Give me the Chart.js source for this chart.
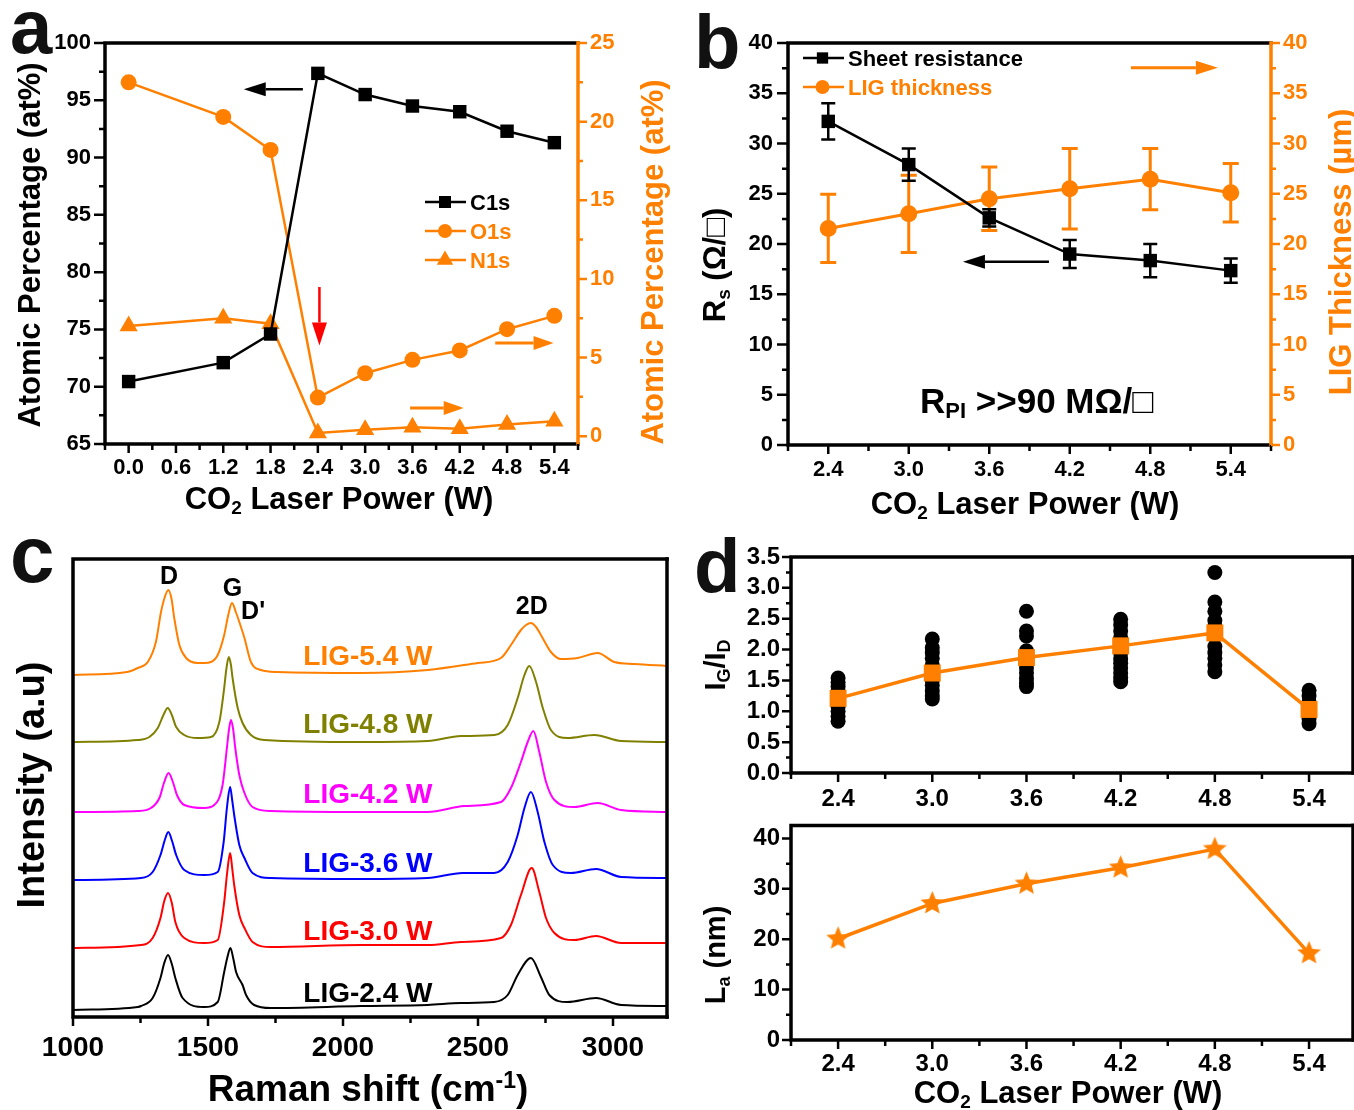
<!DOCTYPE html>
<html>
<head>
<meta charset="utf-8">
<title>LIG characterisation</title>
<script src="https://cdn.jsdelivr.net/npm/chart.js@4.4.1/dist/chart.umd.min.js"></script>
<style>
  html, body { margin: 0; padding: 0; background: #fff; }
  #fig { position: relative; width: 1354px; height: 1110px; overflow: hidden; background: #fff; }
  #fig canvas { position: absolute; }
</style>
</head>
<body>
<div id="fig">
  <canvas id="chartA" width="680" height="520" style="left:0;top:0;width:680px;height:520px"></canvas>
  <canvas id="chartB" width="674" height="520" style="left:680px;top:0;width:674px;height:520px"></canvas>
  <canvas id="chartC" width="680" height="580" style="left:0;top:530px;width:680px;height:580px"></canvas>
  <canvas id="chartD1" width="690" height="290" style="left:680px;top:530px;width:690px;height:290px"></canvas>
  <canvas id="chartD2" width="690" height="310" style="left:680px;top:800px;width:690px;height:310px"></canvas>
</div>
<script>
// ---- panel a : XPS atomic percentages
const powerA = [0.0, 1.2, 1.8, 2.4, 3.0, 3.6, 4.2, 4.8, 5.4];
const c1s = [70.45, 72.1, 74.6, 97.35, 95.5, 94.5, 94.0, 92.3, 91.3];
const o1s = [22.5, 20.3, 18.2, 2.45, 4.0, 4.85, 5.45, 6.8, 7.65];
const n1s = [7.0, 7.5, 7.15, 0.2, 0.4, 0.57, 0.47, 0.74, 0.95];
const aXTicks = [0.0, 0.6, 1.2, 1.8, 2.4, 3.0, 3.6, 4.2, 4.8, 5.4];
const aXMinor = [-0.3, 0.3, 0.9, 1.5, 2.1, 2.7, 3.3, 3.9, 4.5, 5.1, 5.7];
const aLeftTicks = [65, 70, 75, 80, 85, 90, 95, 100];
const aLeftMinor = [67.5, 72.5, 77.5, 82.5, 87.5, 92.5, 97.5];
const aRightTicks = [0, 5, 10, 15, 20, 25];
const aRightMinor = [2.5, 7.5, 12.5, 17.5, 22.5];

// ---- panel b : sheet resistance and thickness
const powerB = [2.4, 3.0, 3.6, 4.2, 4.8, 5.4];
const sheetRes = [32.2, 27.9, 22.6, 19.0, 18.35, 17.35];
const sheetResErr = [1.8, 1.6, 0.85, 1.4, 1.65, 1.2];
const thickness = [21.55, 23.0, 24.5, 25.5, 26.45, 25.1];
const thicknessErr = [3.4, 3.85, 3.15, 4.0, 3.05, 2.9];
const powerTicks = [2.4, 3.0, 3.6, 4.2, 4.8, 5.4];
const powerMinor = [2.1, 2.7, 3.3, 3.9, 4.5, 5.1, 5.7];
const bTicks = [0, 5, 10, 15, 20, 25, 30, 35, 40];
const bMinor = [2.5, 7.5, 12.5, 17.5, 22.5, 27.5, 32.5, 37.5];

// ---- panel c : Raman spectra (offset traces, a.u.)
const ramanX54 = [1000, 1200, 1240, 1277, 1307, 1326, 1340, 1353, 1365, 1375, 1394, 1419, 1462, 1486, 1511, 1536, 1560, 1575, 1589, 1603, 1616, 1635, 1659, 1696, 1758, 2067, 2314, 2499, 2585, 2622, 2659, 2678, 2696, 2715, 2733, 2770, 2807, 2869, 2943, 3005, 3079, 3200];
const ramanY54 = [342, 345, 349, 355, 375, 405, 420, 427, 418, 399, 372, 359, 354, 354, 355, 362, 382, 402, 414, 405, 395, 379, 355, 347, 345, 344, 347, 354, 359, 372, 387, 392, 394, 390, 382, 365, 358, 359, 364, 355, 353, 351];
const ramanX48 = [1000, 1240, 1283, 1314, 1335, 1351, 1366, 1382, 1412, 1462, 1511, 1542, 1560, 1568, 1577, 1585, 1591, 1610, 1628, 1659, 1709, 2067, 2314, 2437, 2561, 2610, 2647, 2672, 2690, 2715, 2740, 2770, 2832, 2931, 3030, 3200];
const ramanY48 = [275, 277, 280, 289, 302, 309, 302, 290, 282, 279, 280, 295, 329, 348, 360, 352, 339, 309, 294, 282, 277, 275, 276, 281, 282, 292, 319, 342, 351, 335, 309, 287, 279, 282, 276, 275];
const ramanX42 = [1000, 1240, 1289, 1320, 1338, 1354, 1370, 1385, 1412, 1486, 1523, 1554, 1570, 1578, 1585, 1593, 1601, 1616, 1635, 1665, 1733, 2067, 2314, 2449, 2585, 2622, 2659, 2684, 2705, 2727, 2752, 2783, 2857, 2943, 3030, 3200];
const ramanY42 = [205, 206, 209, 219, 235, 244, 235, 222, 212, 209, 212, 232, 269, 288, 297, 288, 269, 242, 224, 210, 206, 205, 205, 211, 215, 229, 255, 275, 286, 265, 235, 217, 210, 214, 207, 205];
const ramanX36 = [1000, 1252, 1295, 1324, 1340, 1353, 1367, 1382, 1412, 1486, 1536, 1558, 1570, 1582, 1590, 1597, 1616, 1635, 1665, 1733, 2067, 2314, 2443, 2560, 2610, 2647, 2672, 2696, 2721, 2746, 2777, 2844, 2937, 3030, 3200];
const ramanY36 = [137, 139, 145, 162, 177, 185, 176, 162, 147, 142, 145, 175, 209, 230, 216, 202, 172, 159, 144, 139, 138, 139, 144, 144, 155, 182, 209, 225, 205, 175, 152, 144, 148, 140, 139];
const ramanX30 = [1000, 1252, 1295, 1324, 1338, 1352, 1366, 1379, 1412, 1486, 1536, 1560, 1570, 1582, 1590, 1597, 1616, 1635, 1665, 1733, 2067, 2314, 2437, 2585, 2622, 2659, 2699, 2727, 2752, 2783, 2857, 2937, 3030, 3200];
const ramanY30 = [69, 72, 79, 99, 116, 124, 114, 95, 79, 74, 77, 115, 142, 164, 148, 132, 102, 89, 75, 70, 72, 72, 75, 79, 92, 122, 149, 125, 99, 84, 77, 81, 74, 74];
const ramanX24 = [1000, 1240, 1252, 1295, 1324, 1338, 1352, 1366, 1379, 1406, 1486, 1536, 1560, 1572, 1583, 1594, 1604, 1628, 1641, 1671, 1733, 2067, 2314, 2437, 2560, 2610, 2647, 2696, 2733, 2764, 2832, 2937, 3030, 3200];
const ramanY24 = [7, 10, 11, 19, 39, 54, 62, 53, 39, 19, 10, 15, 45, 60, 69, 58, 45, 32, 22, 12, 9, 11, 12, 14, 15, 22, 42, 59, 40, 22, 15, 19, 12, 11];
const ramanLabels = ['LIG-5.4 W', 'LIG-4.8 W', 'LIG-4.2 W', 'LIG-3.6 W', 'LIG-3.0 W', 'LIG-2.4 W'];
const cTicks = [1000, 1500, 2000, 2500, 3000];
const cMinor = [1250, 1750, 2250, 2750];

// ---- panel d : IG/ID ratio and crystallite size
const igidMean = [1.21, 1.62, 1.87, 2.06, 2.27, 1.03];
const igid24 = [1.54, 1.47, 1.40, 1.32, 1.25, 1.15, 1.07, 1.00, 0.92, 0.84];
const igid30 = [2.17, 2.03, 1.95, 1.86, 1.75, 1.62, 1.50, 1.42, 1.33, 1.25, 1.20];
const igid36 = [2.62, 2.30, 2.22, 1.98, 1.88, 1.78, 1.70, 1.62, 1.53, 1.46, 1.40];
const igid42 = [2.49, 2.40, 2.30, 2.20, 2.10, 1.95, 1.85, 1.78, 1.70, 1.62, 1.55, 1.48];
const igid48 = [3.25, 2.77, 2.62, 2.47, 2.38, 2.05, 1.95, 1.86, 1.75, 1.64];
const igid54 = [1.34, 1.25, 1.15, 1.05, 0.95, 0.88, 0.80];
const crystalSize = [20.1, 27.1, 31.0, 34.2, 37.9, 17.2];
const dTopTicks = [0.0, 0.5, 1.0, 1.5, 2.0, 2.5, 3.0, 3.5];
const dTopMinor = [0.25, 0.75, 1.25, 1.75, 2.25, 2.75, 3.25];
const dBotTicks = [0, 10, 20, 30, 40];
const dBotMinor = [5, 15, 25, 35];

const ORANGE = '#FF8000';
const BLACK = '#000000';
const FAMILY = '"Liberation Sans", Arial, Helvetica, sans-serif';
function font(size) { return 'bold ' + size + 'px ' + FAMILY; }
function pts(xs, ys) { return xs.map((x, i) => ({ x: x, y: ys[i] })); }

// axis with fixed ticks and a fixed thickness so the plot boxes line up
function linAxis(o) {
  return {
    type: 'linear', position: o.position, min: o.min, max: o.max,
    afterBuildTicks: ax => { ax.ticks = o.ticks.map(v => ({ value: v })); },
    afterFit: s => {
      if (o.width != null) s.width = o.width;
      if (o.height != null) s.height = o.height;
    },
    grid: { display: false, drawTicks: false },
    border: { display: false },
    ticks: {
      display: o.show !== false, autoSkip: false, maxRotation: 0, padding: o.pad || 0,
      color: o.color || BLACK, font: { family: FAMILY, size: o.size || 22, weight: 'bold' },
      callback: v => o.fmt ? o.fmt(v) : String(v)
    }
  };
}

function baseOptions(padding, scales) {
  return {
    responsive: false, animation: false, events: [],
    layout: { padding: padding, autoPadding: false },
    plugins: { legend: { display: false }, tooltip: { enabled: false } },
    scales: scales
  };
}

// ---- drawing helpers
function drawFrame(chart, rightColor) {
  const ctx = chart.ctx, ca = chart.chartArea;
  ctx.save();
  ctx.lineWidth = 3.5; ctx.lineCap = 'square'; ctx.strokeStyle = BLACK;
  ctx.beginPath();
  ctx.moveTo(ca.right, ca.top); ctx.lineTo(ca.left, ca.top);
  ctx.lineTo(ca.left, ca.bottom); ctx.lineTo(ca.right, ca.bottom);
  ctx.stroke();
  ctx.strokeStyle = rightColor || BLACK;
  ctx.beginPath(); ctx.moveTo(ca.right, ca.top); ctx.lineTo(ca.right, ca.bottom); ctx.stroke();
  ctx.restore();
}

function drawTicks(chart, id, values, len, color) {
  const s = chart.scales[id], ca = chart.chartArea, ctx = chart.ctx;
  ctx.save(); ctx.strokeStyle = color; ctx.lineWidth = 2.5;
  ctx.beginPath();
  values.forEach(v => {
    const p = s.getPixelForValue(v);
    if (s.isHorizontal()) { ctx.moveTo(p, ca.bottom); ctx.lineTo(p, ca.bottom + len); }
    else if (s.position === 'right') { ctx.moveTo(ca.right, p); ctx.lineTo(ca.right + len, p); }
    else { ctx.moveTo(ca.left, p); ctx.lineTo(ca.left - len, p); }
  });
  ctx.stroke(); ctx.restore();
}

// text with sub/superscripts; (x, y) is the centre (or left end) at mid cap height
function rich(ctx, parts, x, y, size, color, opt) {
  opt = opt || {};
  ctx.save();
  ctx.translate(x, y);
  if (opt.rot) ctx.rotate(opt.rot);
  ctx.fillStyle = color; ctx.textAlign = 'left'; ctx.textBaseline = 'alphabetic';
  const segs = parts.map(p => {
    const s = p[1] ? Math.round(size * 0.62) : size;
    ctx.font = font(s);
    return { t: p[0], m: p[1], s: s, w: ctx.measureText(p[0]).width };
  });
  const total = segs.reduce((a, g) => a + g.w, 0);
  let cx = opt.align === 'left' ? 0 : -total / 2;
  const base = size * 0.36;
  segs.forEach(g => {
    ctx.font = font(g.s);
    const dy = g.m === 'sub' ? size * 0.14 : (g.m === 'sup' ? -size * 0.36 : 0);
    ctx.fillText(g.t, cx, base + dy);
    cx += g.w;
  });
  ctx.restore();
}

function arrow(ctx, x1, y1, x2, y2, color, lw, head, half) {
  const a = Math.atan2(y2 - y1, x2 - x1);
  const bx = x2 - Math.cos(a) * head, by = y2 - Math.sin(a) * head;
  ctx.save();
  ctx.strokeStyle = color; ctx.fillStyle = color; ctx.lineWidth = lw;
  ctx.beginPath(); ctx.moveTo(x1, y1); ctx.lineTo(bx, by); ctx.stroke();
  ctx.beginPath();
  ctx.moveTo(x2, y2);
  ctx.lineTo(bx + Math.sin(a) * half, by - Math.cos(a) * half);
  ctx.lineTo(bx - Math.sin(a) * half, by + Math.cos(a) * half);
  ctx.closePath(); ctx.fill();
  ctx.restore();
}

function marker(ctx, kind, x, y, r, color) {
  ctx.save(); ctx.fillStyle = color; ctx.beginPath();
  if (kind === 'rect') ctx.rect(x - r * 0.707, y - r * 0.707, r * 1.414, r * 1.414);
  else if (kind === 'circle') ctx.arc(x, y, r, 0, Math.PI * 2);
  else { ctx.moveTo(x, y - r); ctx.lineTo(x + r * 0.866, y + r * 0.5); ctx.lineTo(x - r * 0.866, y + r * 0.5); ctx.closePath(); }
  ctx.fill(); ctx.restore();
}

function legendRow(ctx, x1, x2, xm, y, kind, r, color, text, textColor) {
  ctx.save(); ctx.strokeStyle = color; ctx.lineWidth = 2.5;
  ctx.beginPath(); ctx.moveTo(x1, y); ctx.lineTo(x2, y); ctx.stroke(); ctx.restore();
  marker(ctx, kind, xm, y, r, color);
  rich(ctx, [[text, '']], x2 + 4, y, 22, textColor, { align: 'left' });
}

function letter(ctx, ch, x, y, size) {
  ctx.save(); ctx.font = font(size); ctx.fillStyle = '#111'; ctx.textBaseline = 'alphabetic';
  ctx.fillText(ch, x, y); ctx.restore();
}

function errorBars(chart, xs, ys, errs, yId, color, lw, cap) {
  const sx = chart.scales.x, sy = chart.scales[yId], ctx = chart.ctx;
  ctx.save(); ctx.strokeStyle = color; ctx.lineWidth = lw; ctx.beginPath();
  xs.forEach((x, i) => {
    const px = sx.getPixelForValue(x);
    const top = sy.getPixelForValue(ys[i] + errs[i]);
    const bot = sy.getPixelForValue(ys[i] - errs[i]);
    ctx.moveTo(px, top); ctx.lineTo(px, bot);
    ctx.moveTo(px - cap, top); ctx.lineTo(px + cap, top);
    ctx.moveTo(px - cap, bot); ctx.lineTo(px + cap, bot);
  });
  ctx.stroke(); ctx.restore();
}

function makeStar(r, color) {
  const c = document.createElement('canvas');
  const s = Math.ceil(r * 2 + 2);
  c.width = s; c.height = s;
  const g = c.getContext('2d');
  g.fillStyle = color; g.beginPath();
  for (let i = 0; i < 10; i++) {
    const rr = i % 2 ? r * 0.45 : r;
    const a = -Math.PI / 2 + i * Math.PI / 5;
    g.lineTo(s / 2 + rr * Math.cos(a), s / 2 + rr * Math.sin(a));
  }
  g.closePath(); g.fill();
  return c;
}

const fmt1 = v => v.toFixed(1);
const fmt0 = v => v.toFixed(0);
const co2Title = [['CO', ''], ['2', 'sub'], [' Laser Power (W)', '']];

// ================= panel a
const plugA = {
  id: 'panelA',
  afterDraw(chart) {
    const ctx = chart.ctx, sx = chart.scales.x, sy = chart.scales.y, sy2 = chart.scales.y2;
    drawFrame(chart, ORANGE);
    drawTicks(chart, 'x', aXTicks, 9, BLACK);
    drawTicks(chart, 'x', aXMinor, 6, BLACK);
    drawTicks(chart, 'y', aLeftTicks, 11, BLACK);
    drawTicks(chart, 'y', aLeftMinor, 6, BLACK);
    drawTicks(chart, 'y2', aRightTicks, 9, ORANGE);
    drawTicks(chart, 'y2', aRightMinor, 5, ORANGE);
    letter(ctx, 'a', 10, 53, 76);
    rich(ctx, [['Atomic Percentage (at%)', '']], 29, 245, 31, BLACK, { rot: -Math.PI / 2 });
    rich(ctx, [['Atomic Percentage (at%)', '']], 652, 262, 31, ORANGE, { rot: -Math.PI / 2 });
    rich(ctx, co2Title, 339, 498, 31, BLACK);
    legendRow(ctx, 425, 466, 445, 202, 'rect', 8.5, BLACK, 'C1s', BLACK);
    legendRow(ctx, 425, 466, 445, 231, 'circle', 7, ORANGE, 'O1s', ORANGE);
    legendRow(ctx, 425, 466, 445, 260, 'tri', 9.5, ORANGE, 'N1s', ORANGE);
    arrow(ctx, sx.getPixelForValue(2.21), sy.getPixelForValue(95.96), sx.getPixelForValue(1.46), sy.getPixelForValue(95.96), BLACK, 2.5, 22, 7);
    arrow(ctx, sx.getPixelForValue(2.42), sy.getPixelForValue(78.7), sx.getPixelForValue(2.42), sy.getPixelForValue(73.6), '#FF0000', 2.5, 23, 7.5);
    arrow(ctx, sx.getPixelForValue(4.65), sy2.getPixelForValue(5.92), sx.getPixelForValue(5.39), sy2.getPixelForValue(5.92), ORANGE, 3, 20, 7);
    arrow(ctx, sx.getPixelForValue(3.57), sy2.getPixelForValue(1.79), sx.getPixelForValue(4.25), sy2.getPixelForValue(1.79), ORANGE, 3, 20, 7);
  }
};

new Chart(document.getElementById('chartA'), {
  type: 'line',
  data: {
    datasets: [
      { label: 'C1s', data: pts(powerA, c1s), yAxisID: 'y', borderColor: BLACK, backgroundColor: BLACK,
        borderWidth: 2.5, pointStyle: 'rect', pointRadius: 9.5, pointBorderWidth: 0 },
      { label: 'O1s', data: pts(powerA, o1s), yAxisID: 'y2', borderColor: ORANGE, backgroundColor: ORANGE,
        borderWidth: 2.5, pointStyle: 'circle', pointRadius: 8, pointBorderWidth: 0 },
      { label: 'N1s', data: pts(powerA, n1s), yAxisID: 'y2', borderColor: ORANGE, backgroundColor: ORANGE,
        borderWidth: 2.5, pointStyle: 'triangle', pointRadius: 10.5, pointBorderWidth: 0 }
    ]
  },
  options: baseOptions({ top: 43, left: 0, right: 0, bottom: 0 }, {
    x: linAxis({ position: 'bottom', min: -0.3, max: 5.7, ticks: aXTicks, fmt: fmt1, height: 76, pad: 11, size: 22 }),
    y: linAxis({ position: 'left', min: 65, max: 100, ticks: aLeftTicks, fmt: fmt0, width: 105, pad: 14, size: 22 }),
    y2: linAxis({ position: 'right', min: -0.5, max: 25, ticks: aRightTicks, fmt: fmt0, width: 102, pad: 12, size: 22, color: ORANGE })
  }),
  plugins: [plugA]
});

// ================= panel b
const plugB = {
  id: 'panelB',
  beforeDatasetsDraw(chart) {
    errorBars(chart, powerB, thickness, thicknessErr, 'y2', ORANGE, 3, 8);
    errorBars(chart, powerB, sheetRes, sheetResErr, 'y', BLACK, 2.5, 7);
  },
  afterDraw(chart) {
    const ctx = chart.ctx, sx = chart.scales.x, sy = chart.scales.y;
    drawFrame(chart, ORANGE);
    drawTicks(chart, 'x', powerTicks, 9, BLACK);
    drawTicks(chart, 'x', powerMinor, 6, BLACK);
    drawTicks(chart, 'y', bTicks, 11, BLACK);
    drawTicks(chart, 'y', bMinor, 6, BLACK);
    drawTicks(chart, 'y2', bTicks, 9, ORANGE);
    drawTicks(chart, 'y2', bMinor, 5, ORANGE);
    letter(ctx, 'b', 14, 68, 76);
    rich(ctx, [['R', ''], ['s', 'sub'], [' (Ω/□)', '']], 34, 265, 31, BLACK, { rot: -Math.PI / 2 });
    rich(ctx, [['LIG Thickness (µm)', '']], 660, 252, 31, ORANGE, { rot: -Math.PI / 2 });
    rich(ctx, co2Title, 345, 503, 31, BLACK);
    legendRow(ctx, 123, 164, 142.5, 58, 'rect', 8, BLACK, 'Sheet resistance', BLACK);
    legendRow(ctx, 123, 164, 142.5, 87, 'circle', 7, ORANGE, 'LIG thickness', ORANGE);
    arrow(ctx, sx.getPixelForValue(4.656), sy.getPixelForValue(37.54), sx.getPixelForValue(5.304), sy.getPixelForValue(37.54), ORANGE, 3, 22, 7);
    arrow(ctx, sx.getPixelForValue(4.045), sy.getPixelForValue(18.24), sx.getPixelForValue(3.404), sy.getPixelForValue(18.24), BLACK, 2.5, 22, 7);
    rich(ctx, [['R', ''], ['PI', 'sub'], [' >>90 MΩ/□', '']], 240, 400, 35, BLACK, { align: 'left' });
  }
};

new Chart(document.getElementById('chartB'), {
  type: 'line',
  data: {
    datasets: [
      { label: 'Sheet resistance', data: pts(powerB, sheetRes), yAxisID: 'y', borderColor: BLACK, backgroundColor: BLACK,
        borderWidth: 2.5, pointStyle: 'rect', pointRadius: 9.5, pointBorderWidth: 0 },
      { label: 'LIG thickness', data: pts(powerB, thickness), yAxisID: 'y2', borderColor: ORANGE, backgroundColor: ORANGE,
        borderWidth: 3, pointStyle: 'circle', pointRadius: 8.5, pointBorderWidth: 0 }
    ]
  },
  options: baseOptions({ top: 43, left: 0, right: 0, bottom: 0 }, {
    x: linAxis({ position: 'bottom', min: 2.1, max: 5.7, ticks: powerTicks, fmt: fmt1, height: 75, pad: 12, size: 22 }),
    y: linAxis({ position: 'left', min: 0, max: 40, ticks: bTicks, fmt: fmt0, width: 108, pad: 15, size: 22 }),
    y2: linAxis({ position: 'right', min: 0, max: 40, ticks: bTicks, fmt: fmt0, width: 83, pad: 12, size: 22, color: ORANGE })
  }),
  plugins: [plugB]
});

// ================= panel c
const ramanColors = [ORANGE, '#808000', '#FF00FF', '#0000FF', '#FF0000', BLACK];
const ramanSets = [[ramanX54, ramanY54], [ramanX48, ramanY48], [ramanX42, ramanY42], [ramanX36, ramanY36], [ramanX30, ramanY30], [ramanX24, ramanY24]];
const ramanLabelY = [362, 294, 224, 155, 87, 25];

const plugC = {
  id: 'panelC',
  afterDraw(chart) {
    const ctx = chart.ctx, sx = chart.scales.x, sy = chart.scales.y;
    drawFrame(chart, BLACK);
    drawTicks(chart, 'x', cTicks, 9, BLACK);
    drawTicks(chart, 'x', cMinor, 6, BLACK);
    letter(ctx, 'c', 10, 52, 80);
    rich(ctx, [['Intensity (a.u)', '']], 30, 255, 38, BLACK, { rot: -Math.PI / 2 });
    rich(ctx, [['Raman shift (cm', ''], ['-1', 'sup'], [')', '']], 368, 558, 37, BLACK);
    rich(ctx, [['D', '']], sx.getPixelForValue(1356), sy.getPixelForValue(442), 25, BLACK);
    rich(ctx, [['G', '']], sx.getPixelForValue(1591), sy.getPixelForValue(430), 25, BLACK);
    rich(ctx, [["D'", '']], sx.getPixelForValue(1667), sy.getPixelForValue(407), 25, BLACK);
    rich(ctx, [['2D', '']], sx.getPixelForValue(2699), sy.getPixelForValue(412), 25, BLACK);
    ramanLabels.forEach((t, i) => {
      rich(ctx, [[t, '']], sx.getPixelForValue(1853), sy.getPixelForValue(ramanLabelY[i]), 28, ramanColors[i], { align: 'left' });
    });
  }
};

new Chart(document.getElementById('chartC'), {
  type: 'line',
  data: {
    datasets: ramanSets.map((s, i) => ({
      label: ramanLabels[i], data: pts(s[0], s[1]), borderColor: ramanColors[i], borderWidth: 2,
      pointRadius: 0, cubicInterpolationMode: 'monotone', tension: 0.4, fill: false
    }))
  },
  options: baseOptions({ top: 29, left: 0, right: 13, bottom: 0 }, {
    x: linAxis({ position: 'bottom', min: 1000, max: 3200, ticks: cTicks, fmt: fmt0, height: 93, pad: 14, size: 28 }),
    y: linAxis({ position: 'left', min: 0, max: 458, ticks: [], show: false, width: 73 })
  }),
  plugins: [plugC]
});

// ================= panel d (top): IG/ID
const igidCols = [igid24, igid30, igid36, igid42, igid48, igid54];
const igidDots = [];
igidCols.forEach((col, i) => col.forEach(v => igidDots.push({ x: powerB[i], y: v })));

const plugD1 = {
  id: 'panelD1',
  afterDraw(chart) {
    const ctx = chart.ctx;
    drawFrame(chart, BLACK);
    drawTicks(chart, 'x', powerTicks, 9, BLACK);
    drawTicks(chart, 'x', powerMinor.filter(v => v < 5.68), 6, BLACK);
    drawTicks(chart, 'y', dTopTicks, 9, BLACK);
    drawTicks(chart, 'y', dTopMinor, 5, BLACK);
    letter(ctx, 'd', 14, 62, 76);
    rich(ctx, [['I', ''], ['G', 'sub'], ['/I', ''], ['D', 'sub']], 35, 135, 29, BLACK, { rot: -Math.PI / 2 });
  }
};

new Chart(document.getElementById('chartD1'), {
  type: 'line',
  data: {
    datasets: [
      { label: 'mean', data: pts(powerB, igidMean), borderColor: ORANGE, backgroundColor: ORANGE,
        borderWidth: 3.5, pointStyle: 'rect', pointRadius: 12, pointBorderWidth: 0 },
      { label: 'points', data: igidDots, showLine: false, backgroundColor: BLACK, borderColor: BLACK,
        pointStyle: 'circle', pointRadius: 7.5, pointBorderWidth: 0 }
    ]
  },
  options: baseOptions({ top: 27, left: 0, right: 17, bottom: 0 }, {
    x: linAxis({ position: 'bottom', min: 2.1, max: 5.68, ticks: powerTicks, fmt: fmt1, height: 47, pad: 12, size: 24 }),
    y: linAxis({ position: 'left', min: 0, max: 3.5, ticks: dTopTicks, fmt: fmt1, width: 111, pad: 11, size: 24 })
  }),
  plugins: [plugD1]
});

// ================= panel d (bottom): La
const plugD2 = {
  id: 'panelD2',
  afterDraw(chart) {
    const ctx = chart.ctx;
    drawFrame(chart, BLACK);
    drawTicks(chart, 'x', powerTicks, 9, BLACK);
    drawTicks(chart, 'x', powerMinor.filter(v => v < 5.68), 6, BLACK);
    drawTicks(chart, 'y', dBotTicks, 9, BLACK);
    drawTicks(chart, 'y', dBotMinor, 5, BLACK);
    rich(ctx, [['L', ''], ['a', 'sub'], [' (nm)', '']], 35, 155, 29, BLACK, { rot: -Math.PI / 2 });
    rich(ctx, co2Title, 388, 292, 31, BLACK);
  }
};

new Chart(document.getElementById('chartD2'), {
  type: 'line',
  data: {
    datasets: [
      { label: 'La', data: pts(powerB, crystalSize), borderColor: ORANGE, backgroundColor: ORANGE,
        borderWidth: 3.5, pointStyle: makeStar(12.5, ORANGE), pointRadius: 12 }
    ]
  },
  options: baseOptions({ top: 13, left: 0, right: 17, bottom: 0 }, {
    x: linAxis({ position: 'bottom', min: 2.1, max: 5.68, ticks: powerTicks, fmt: fmt1, height: 70, pad: 10, size: 24 }),
    y: linAxis({ position: 'left', min: 0, max: 42.6, ticks: dBotTicks, fmt: fmt0, width: 111, pad: 11, size: 24 })
  }),
  plugins: [plugD2]
});
</script>
</body>
</html>
